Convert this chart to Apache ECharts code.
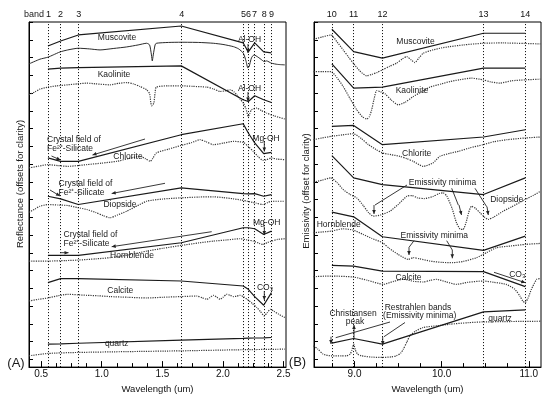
<!DOCTYPE html>
<html><head><meta charset="utf-8">
<script src="https://cdn.jsdelivr.net/npm/echarts@6/dist/echarts.min.js"></script>
<style>html,body{margin:0;padding:0;background:#fff}#c{width:550px;height:399px}</style>
</head><body><div id="c"></div>
<script>
// ---------- Panel A (VNIR-SWIR reflectance, offsets for clarity) ----------
const bandsA = [0.556, 0.661, 0.807, 1.656, 2.167, 2.209, 2.262, 2.336, 2.400];
const bandLabelsA = ['1','2','3','4','5','6','7','8','9'];
const xTicksA = [0.5, 1.0, 1.5, 2.0, 2.5];

const muscoviteBandA  = [325, 330, 336, 345, 328, 319, 328, 319, 318];
const kaoliniteBandA  = [301.7, 302.7, 303.3, 305, 271, 269.3, 275, 271, 268.3];
const chloriteBandA   = [212.7, 209.3, 209.3, 236, 247, 237.7, 227.7, 217, 218.3];
const diopsideBandA   = [174.3, 171.7, 166, 182.7, 177, 176.7, 177, 174.3, 176];
const hornblendeBandA = [115, 115, 115, 127.7, 142.7, 142.7, 141.7, 136, 139.3];
const calciteBandA    = [87.7, 91.7, 91.7, 89.3, 84.3, 81, 73.7, 65, 77.7];
const quartzBandA     = [26, 26.3, 26.9, 30, 31.8, 32, 32.2, 32.4, 32.7];

const muscoviteSpecA = [[0.40,307],[0.49,311.7],[0.556,313.7],[0.60,316],[0.656,319],[0.72,321],[0.807,322.7],[0.90,322],[0.986,321],[1.10,322.5],[1.206,324],[1.30,326],[1.371,327.7],[1.395,326],[1.41,316],[1.417,310],[1.425,316],[1.44,326],[1.45,327.7],[1.55,328.5],[1.656,328.7],[1.80,328.5],[1.92,327.7],[2.00,326.5],[2.086,324.3],[2.13,322],[2.168,317.7],[2.19,310],[2.205,303],[2.215,304],[2.235,313],[2.256,316],[2.29,313.7],[2.32,311],[2.34,309.3],[2.36,310],[2.40,307.7],[2.45,306.5],[2.51,306]];
const kaoliniteSpecA = [[0.40,276],[0.45,279],[0.49,281.7],[0.556,283.7],[0.63,285],[0.72,286],[0.80,287],[0.876,287.7],[0.95,287],[1.068,286],[1.14,287.5],[1.206,288.3],[1.26,287],[1.316,284.3],[1.371,281],[1.395,277],[1.405,268],[1.412,265],[1.42,266],[1.43,267.7],[1.44,278],[1.45,283.7],[1.55,285],[1.656,285],[1.75,284.5],[1.866,283.7],[1.92,282],[1.976,279.3],[2.02,280],[2.06,281],[2.09,279],[2.113,276],[2.14,272],[2.168,267.7],[2.19,262],[2.209,254.3],[2.22,257],[2.236,261],[2.277,262.7],[2.32,260],[2.36,257.7],[2.42,255],[2.51,251.7]];
const chloriteSpecA = [[0.40,202.7],[0.48,204.5],[0.556,206],[0.64,205],[0.72,204.3],[0.80,205],[0.876,206],[1.00,207.5],[1.123,209.3],[1.22,212],[1.316,214.3],[1.36,212],[1.40,209.3],[1.42,212],[1.45,217.7],[1.55,221.5],[1.656,225.3],[1.74,228],[1.81,231],[1.86,229],[1.92,226],[2.00,227.5],[2.086,229.3],[2.168,228.3],[2.21,224],[2.25,219.3],[2.29,214],[2.33,210.3],[2.36,211],[2.40,212.7],[2.45,211.5],[2.51,211]];
const diopsideSpecA = [[0.40,158.3],[0.45,161.5],[0.49,164.3],[0.556,166],[0.64,165.5],[0.72,165],[0.80,163],[0.876,161],[0.95,158],[1.01,155],[1.068,152.7],[1.13,155.5],[1.206,159.3],[1.29,164.5],[1.371,169.3],[1.50,171.5],[1.656,172.7],[1.80,173.5],[1.92,173.7],[2.00,173],[2.086,171.7],[2.15,170.5],[2.20,169.3],[2.27,167.5],[2.33,166],[2.37,168],[2.40,169.3],[2.51,169.3]];
const hornblendeSpecA = [[0.40,109.3],[0.556,109.3],[0.70,109.8],[0.807,110.3],[0.95,111.5],[1.068,112.7],[1.22,115.5],[1.371,119.3],[1.50,122],[1.656,125],[1.80,127.5],[1.92,129.3],[2.03,130.5],[2.14,131.7],[2.20,130.5],[2.25,129.3],[2.30,127],[2.33,126],[2.37,128],[2.40,129.3],[2.45,131],[2.51,131.7]];
const calciteSpecA = [[0.40,69.3],[0.48,71],[0.556,72.3],[0.64,74.5],[0.72,76],[0.80,75.5],[0.876,75],[0.97,74.5],[1.068,73.7],[1.22,73],[1.371,72.3],[1.50,73],[1.656,73.7],[1.783,74.3],[1.83,72.5],[1.866,71],[1.89,72.5],[1.92,75],[1.95,73],[1.976,71],[2.00,73],[2.03,76],[2.06,75],[2.086,73.7],[2.11,74],[2.14,75],[2.17,73.5],[2.20,71],[2.24,67],[2.28,62.7],[2.31,58.5],[2.34,54.3],[2.365,57.5],[2.39,61],[2.42,59],[2.46,56],[2.51,52.7]];
const quartzSpecA = [[0.40,14.3],[0.556,16.7],[0.807,17.7],[1.2,18.5],[1.656,19.3],[2.1,20.3],[2.51,21]];

// ---------- Panel B (TIR emissivity, offsets for clarity) ----------
const bandsB = [8.74, 8.99, 9.32, 10.48, 10.96];
const bandLabelsB = ['10','11','12','13','14'];
const xTicksB = [9.0, 10.0, 11.0];

const muscoviteBandB  = [341.7, 319.3, 312.7, 337.7, 337.7];
const kaoliniteBandB  = [307, 282.7, 283.7, 302.7, 302.7];
const chloriteBandB   = [244.3, 245.3, 226, 233.7, 241];
const diopsideBandB   = [215, 192.7, 186, 176, 192.7];
const hornblendeBandB = [158.3, 153.7, 133.7, 120, 134.3];
const calciteBandB    = [105, 104.3, 99.3, 98.7, 83.7];
const quartzBandB     = [27, 31.7, 26, 58.3, 60.3];

const muscoviteSpecB = [[8.53,331.7],[8.63,334],[8.73,336],[8.80,329],[8.87,321],[8.93,314],[8.986,307.7],[9.06,300],[9.14,295],[9.20,296.5],[9.26,298.5],[9.32,301],[9.40,304.5],[9.483,307.7],[9.55,312],[9.60,314.3],[9.65,311],[9.693,308.3],[9.74,313],[9.788,317.7],[9.90,321],[10.00,323],[10.094,324.3],[10.25,326],[10.475,327.7],[10.70,328],[10.95,327.5],[11.133,327]];
const kaoliniteSpecB = [[8.53,299.3],[8.63,299.3],[8.73,299.3],[8.80,293],[8.87,284.3],[8.95,272],[9.025,261],[9.09,254],[9.14,251.7],[9.17,254],[9.197,261],[9.225,272],[9.254,280.3],[9.30,279],[9.35,277],[9.42,271],[9.50,266],[9.58,268.5],[9.674,274.3],[9.77,279],[9.865,283.7],[10.0,287],[10.094,289.3],[10.20,291],[10.342,292.7],[10.475,291],[10.56,289],[10.667,287.7],[10.80,290],[10.957,291],[11.133,291.7]];
const chloriteSpecB = [[8.53,231],[8.63,232.8],[8.73,234.3],[8.86,235.8],[8.986,237],[9.08,232],[9.16,226],[9.25,221],[9.32,217.7],[9.42,216],[9.52,214.3],[9.60,212],[9.674,209.3],[9.788,204.3],[9.90,207.7],[9.98,214.3],[10.10,217.5],[10.20,219.5],[10.32,222.7],[10.475,226],[10.60,229],[10.75,231],[10.957,232.7],[11.133,233.7]];
const diopsideSpecB = [[8.53,188.3],[8.63,190.5],[8.73,192.7],[8.80,188],[8.87,181],[8.95,176],[9.025,172.7],[9.10,165],[9.16,158],[9.215,154.3],[9.30,155.5],[9.407,159.3],[9.50,166],[9.60,174.3],[9.66,175],[9.72,172.7],[9.80,172],[9.90,174],[9.97,177],[10.017,177.7],[10.06,174.3],[10.12,162],[10.17,147.7],[10.21,141.5],[10.246,141],[10.28,148],[10.31,158],[10.342,164.3],[10.39,162],[10.44,157.7],[10.49,153.5],[10.533,151],[10.60,153.5],[10.705,159.3],[10.80,163.5],[10.957,171],[11.05,175],[11.133,179.3]];
const hornblendeSpecB = [[8.53,137.7],[8.63,138.5],[8.73,139.3],[8.87,141.7],[8.986,140.3],[9.10,136],[9.20,132],[9.32,127.7],[9.40,122],[9.50,116],[9.617,111],[9.674,112.7],[9.75,111.5],[9.865,109.3],[10.0,108],[10.13,107.7],[10.25,109],[10.40,112.7],[10.52,118],[10.63,122.7],[10.80,124.5],[10.957,126],[11.133,127]];
const calciteSpecB = [[8.53,93.7],[8.73,94.3],[8.986,93.3],[9.15,90],[9.33,86],[9.45,89],[9.56,91],[9.68,89],[9.79,88.3],[9.87,90],[9.94,91],[10.05,88.5],[10.17,86],[10.30,88],[10.475,89.3],[10.60,88],[10.74,86],[10.84,81],[10.90,74],[10.93,69.3],[10.957,67.7],[10.99,72],[11.03,81],[11.09,91],[11.133,91.7]];
const quartzSpecB = [[8.53,24.3],[8.58,21],[8.64,16],[8.73,14.3],[8.85,14.2],[8.91,14.3],[8.95,16],[8.97,20],[8.99,26],[9.01,20],[9.035,16],[9.08,14.3],[9.2,13],[9.32,12.7],[9.42,13.2],[9.48,14.3],[9.53,17],[9.56,21],[9.60,28],[9.636,34.3],[9.70,39],[9.788,42.7],[9.95,44.5],[10.094,46],[10.3,47.5],[10.475,48.3],[10.8,48.7],[11.133,49]];

// ---------- layout ----------
const FONT = '"Liberation Sans", Arial, sans-serif';
const TOP = 22, BOTTOM = 368;
const YMAX = 349, YMIN = 371 - BOTTOM;
const yTickVals = []; for (let k = 0; k < 20; k++) yTickVals.push(+(YMAX - 17.8 * k).toFixed(2));
function minorTicks(major, step, lo, hi) {
  const out = [];
  for (let v = major[0] - 4 * step; v <= hi + 1e-9; v += step) {
    const r = +v.toFixed(4);
    if (r >= lo && r <= hi && !major.some(m => Math.abs(m - r) < 1e-6)) out.push(r);
  }
  return out;
}

function mainX(grid, min, max, ticks) {
  return {
    type: 'value', gridIndex: grid, min, max, position: 'bottom',
    axisLine: { show: true, onZero: false, lineStyle: { color: '#000', width: 1 } },
    axisTick: { show: true, inside: true, length: 6, customValues: ticks, lineStyle: { color: '#000' } },
    axisLabel: { show: true, customValues: ticks, formatter: v => v.toFixed(1), margin: 2, color: '#111', fontSize: 10, fontFamily: FONT },
    splitLine: { show: false },
    name: 'Wavelength (um)', nameLocation: 'middle', nameGap: 12,
    nameTextStyle: { fontSize: 9.5, color: '#111', fontFamily: FONT }
  };
}
function minorX(grid, min, max, ticks) {
  return {
    type: 'value', gridIndex: grid, min, max, position: 'bottom',
    axisLine: { show: false }, axisLabel: { show: false }, splitLine: { show: false },
    axisTick: { show: true, inside: true, length: 4, customValues: ticks, lineStyle: { color: '#000' } }
  };
}
function yAx(grid) {
  return {
    type: 'value', gridIndex: grid, min: YMIN, max: YMAX,
    axisLine: { show: true, onZero: false, lineStyle: { color: '#000', width: 1 } },
    axisTick: { show: true, inside: true, length: 4, customValues: yTickVals, lineStyle: { color: '#000' } },
    axisLabel: { show: false }, splitLine: { show: false }
  };
}
const zip = (xs, ys) => xs.map((x, i) => [x, ys[i]]);
function solid(xi, yi, bands, vals, extra) {
  return Object.assign({ type: 'line', xAxisIndex: xi, yAxisIndex: yi, data: zip(bands, vals), symbol: 'none',
    lineStyle: { color: '#1a1a1a', width: 1.2 }, silent: true, z: 3 }, extra || {});
}
function spec(xi, yi, data, solidLine) {
  return { type: 'line', xAxisIndex: xi, yAxisIndex: yi, data, symbol: 'none', smooth: 0.2, silent: true, z: 2,
    lineStyle: solidLine ? { color: '#2a2a2a', width: 1 } : { color: '#3a3a3a', width: 1.2, type: [1.2, 1.1] } };
}
function bandMarks(bands, labels) {
  return { silent: true, symbol: 'none', animation: false,
    lineStyle: { color: '#000', width: 1, type: [1, 2] },
    label: { show: true, position: 'end', formatter: p => p.name, fontSize: 9, color: '#111', fontFamily: FONT, distance: 3 },
    data: bands.map((b, i) => ({ xAxis: b, name: labels[i] })) };
}

// ---------- annotations ----------
const G = [];
function T(x, y, s, o) {
  o = o || {};
  G.push({ type: 'text', x, y, rotation: o.rot || 0, z: 100,
    style: { text: s, fill: o.fill || '#1a1a1a', font: (o.size || 8.5) + 'px ' + FONT,
      align: o.align || 'center', verticalAlign: 'middle' } });
}
function A(pts, head) {
  G.push({ type: 'polyline', z: 100, shape: { points: pts }, style: { stroke: '#222', lineWidth: 0.9, fill: null } });
  if (head !== false) {
    const [x2, y2] = pts[pts.length - 1], [x1, y1] = pts[pts.length - 2];
    const a = Math.atan2(y2 - y1, x2 - x1), L = 4, W = 1.8;
    const bx = x2 - L * Math.cos(a), by = y2 - L * Math.sin(a);
    G.push({ type: 'polygon', z: 100, shape: { points: [[x2, y2], [bx + W * Math.sin(a), by - W * Math.cos(a)], [bx - W * Math.sin(a), by + W * Math.cos(a)]] }, style: { fill: '#222' } });
  }
}
// panel A
T(44, 15, 'band', { align: 'right', size: 9 });
T(20, 184, 'Reflectance (offsets for clarity)', { rot: Math.PI / 2, size: 9.5 });
T(16, 363, '(A)', { size: 13 });
T(117, 38, 'Muscovite'); T(249.5, 39.5, 'Al-OH'); A([[248, 44], [248, 53]]);
T(114, 75, 'Kaolinite'); T(249.5, 88.5, 'Al-OH'); A([[248, 92], [248, 101.5]]);
T(47, 140, 'Crystal field of', { align: 'left' }); T(47, 149, 'Fe²⁺-Silicate', { align: 'left' });
A([[145, 139], [92.5, 155]]); A([[51.5, 156], [60.5, 160]]);
T(128, 157, 'Chlorite'); T(266, 138.5, 'Mg-OH'); A([[264.3, 142], [264.3, 151.5]]);
T(58.5, 183.5, 'Crystal field of', { align: 'left' }); T(58.5, 193, 'Fe²⁺-Silicate', { align: 'left' });
A([[165, 183.3], [111.7, 193.5]]); A([[50, 190], [60, 196]]);
T(120, 205, 'Diopside');
T(63.5, 235, 'Crystal field of', { align: 'left' }); T(63.5, 244, 'Fe²⁺-Silicate', { align: 'left' });
A([[211.7, 231.7], [111.7, 246.7]]); A([[60, 252.7], [68.5, 252.7]]);
T(132, 256, 'Hornblende'); T(266.7, 222.7, 'Mg-OH'); A([[264.3, 226.7], [264.3, 235]]);
T(120.3, 290.7, 'Calcite'); T(265, 287.3, 'CO₃'); A([[264.3, 291], [264.3, 300]]);
T(116.7, 344, 'quartz');
// panel B
T(306, 191, 'Emissivity (offset for clarity)', { rot: Math.PI / 2, size: 9.5 });
T(297.5, 362, '(B)', { size: 13 });
T(415.5, 41.7, 'Muscovite'); T(412, 90.7, 'Kaolinite'); T(416.7, 153.3, 'Chlorite');
T(442.5, 182.7, 'Emissivity minima');
A([[407, 185], [375, 205]], false); A([[374, 205], [374, 214]]);
A([[451.7, 188.3], [458.3, 205]], false); A([[459, 205], [461.5, 215]]);
A([[475, 188.3], [486.7, 206.7]], false); A([[487, 206.7], [488.3, 215]]);
T(506.7, 199.3, 'Diopside'); T(338.7, 225, 'Hornblende');
T(434.3, 236, 'Emissivity minima');
A([[414, 240.7], [409, 247.3]], false); A([[409, 247.3], [409, 255]]);
A([[446.7, 240.7], [452.3, 250]], false); A([[452.3, 250], [452.3, 258.3]]);
T(408.5, 277.3, 'Calcite'); T(517.3, 275, 'CO₃'); A([[494, 272.3], [525.3, 282.7]]);
T(353, 314, 'Christiansen'); T(355, 321.7, 'peak'); A([[354, 339.3], [354, 325]]);
T(418, 307.3, 'Restrahlen bands'); T(419.7, 315.3, '(Emissivity minima)');
A([[390, 322], [335.7, 337.7]], false); A([[331, 336.7], [331, 344]]);
A([[405, 322.5], [384, 336.7]], false); A([[382.7, 336.7], [382.7, 345]]);
T(500, 318.3, 'quartz');

// ---------- chart ----------
const chart = echarts.init(document.getElementById('c'), null, { renderer: 'canvas' });
const xa = mainX(0, 0.4, 2.52, xTicksA), xam = minorX(0, 0.4, 2.52, minorTicks(xTicksA, 0.125, 0.4, 2.52));
const xb = mainX(1, 8.535, 11.14, xTicksB), xbm = minorX(1, 8.535, 11.14, minorTicks(xTicksB, 0.25, 8.535, 11.14));
chart.setOption({
  animation: false,
  backgroundColor: '#fff',
  grid: [
    { left: 29, top: TOP, width: 257, height: BOTTOM - TOP, show: true, borderColor: '#000', borderWidth: 1, containLabel: false },
    { left: 314, top: TOP, width: 227, height: BOTTOM - TOP, show: true, borderColor: '#000', borderWidth: 1, containLabel: false }
  ],
  xAxis: [xa, xam, xb, xbm],
  yAxis: [yAx(0), yAx(1)],
  series: [
    solid(0, 0, bandsA, quartzBandA, { markLine: bandMarks(bandsA, bandLabelsA) }),
    solid(0, 0, bandsA, muscoviteBandA), solid(0, 0, bandsA, kaoliniteBandA), solid(0, 0, bandsA, chloriteBandA),
    solid(0, 0, bandsA, diopsideBandA), solid(0, 0, bandsA, hornblendeBandA), solid(0, 0, bandsA, calciteBandA),
    spec(0, 0, muscoviteSpecA, true), spec(0, 0, kaoliniteSpecA), spec(0, 0, chloriteSpecA), spec(0, 0, diopsideSpecA),
    spec(0, 0, hornblendeSpecA), spec(0, 0, calciteSpecA), spec(0, 0, quartzSpecA),
    solid(2, 1, bandsB, quartzBandB, { markLine: bandMarks(bandsB, bandLabelsB) }),
    solid(2, 1, bandsB, muscoviteBandB), solid(2, 1, bandsB, kaoliniteBandB), solid(2, 1, bandsB, chloriteBandB),
    solid(2, 1, bandsB, diopsideBandB), solid(2, 1, bandsB, hornblendeBandB), solid(2, 1, bandsB, calciteBandB),
    spec(2, 1, muscoviteSpecB), spec(2, 1, kaoliniteSpecB), spec(2, 1, chloriteSpecB), spec(2, 1, diopsideSpecB),
    spec(2, 1, hornblendeSpecB), spec(2, 1, calciteSpecB), spec(2, 1, quartzSpecB)
  ],
  graphic: { elements: G }
});
</script></body></html>
